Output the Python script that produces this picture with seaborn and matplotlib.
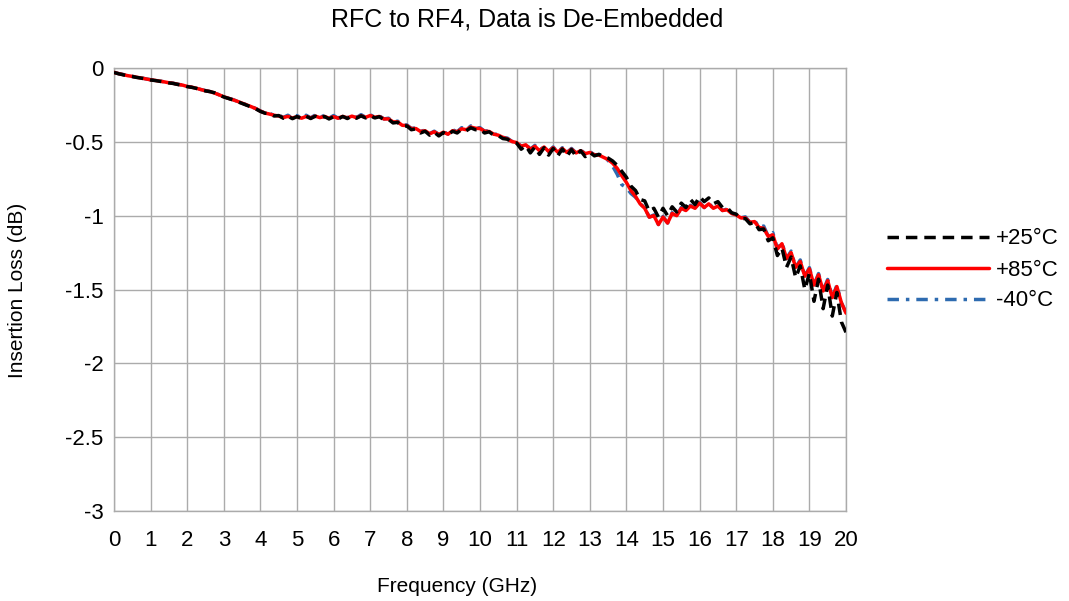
import numpy as np
import pandas as pd
import matplotlib
matplotlib.use("Agg")
import matplotlib.pyplot as plt
import seaborn as sns

# Frequency sweep, 0 to 20 GHz in 0.125 GHz steps (161 points)
freq_ghz = np.linspace(0, 20, 161)

# Insertion loss (dB)
loss_85c = [
    -0.030, -0.038, -0.045, -0.052, -0.057, -0.063, -0.068, -0.074, -0.080, -0.084,
    -0.089, -0.094, -0.100, -0.104, -0.111, -0.116, -0.125, -0.130, -0.137, -0.146,
    -0.154, -0.160, -0.170, -0.182, -0.195, -0.205, -0.215, -0.226, -0.238, -0.250,
    -0.262, -0.275, -0.292, -0.305, -0.312, -0.320, -0.325, -0.335, -0.328, -0.338,
    -0.330, -0.340, -0.328, -0.338, -0.326, -0.336, -0.328, -0.340, -0.330, -0.340,
    -0.328, -0.338, -0.326, -0.336, -0.324, -0.334, -0.322, -0.334, -0.328, -0.345,
    -0.345, -0.365, -0.365, -0.388, -0.390, -0.410, -0.410, -0.430, -0.425, -0.445,
    -0.432, -0.450, -0.435, -0.448, -0.425, -0.432, -0.412, -0.418, -0.400, -0.408,
    -0.410, -0.428, -0.430, -0.448, -0.455, -0.470, -0.480, -0.498, -0.505, -0.530,
    -0.520, -0.550, -0.530, -0.560, -0.535, -0.565, -0.540, -0.570, -0.545, -0.572,
    -0.550, -0.575, -0.560, -0.580, -0.572, -0.588, -0.590, -0.605, -0.620, -0.645,
    -0.680, -0.730, -0.775, -0.830, -0.870, -0.920, -0.950, -1.010, -1.000, -1.060,
    -1.010, -1.050, -0.985, -1.000, -0.950, -0.965, -0.935, -0.950, -0.915, -0.945,
    -0.920, -0.950, -0.935, -0.965, -0.960, -0.985, -0.995, -1.015, -1.015, -1.045,
    -1.040, -1.080, -1.085, -1.140, -1.130, -1.225, -1.190, -1.290, -1.250, -1.350,
    -1.310, -1.410, -1.360, -1.470, -1.400, -1.510, -1.440, -1.555, -1.480, -1.590,
    -1.660,
]

loss_25c = [
    -0.030, -0.039, -0.046, -0.053, -0.058, -0.064, -0.069, -0.075, -0.081, -0.085,
    -0.090, -0.095, -0.101, -0.105, -0.112, -0.117, -0.126, -0.131, -0.138, -0.147,
    -0.155, -0.160, -0.168, -0.183, -0.196, -0.206, -0.216, -0.228, -0.240, -0.252,
    -0.264, -0.277, -0.294, -0.306, -0.310, -0.325, -0.322, -0.340, -0.326, -0.343,
    -0.329, -0.344, -0.327, -0.342, -0.326, -0.341, -0.328, -0.345, -0.330, -0.345,
    -0.328, -0.342, -0.326, -0.340, -0.324, -0.338, -0.322, -0.338, -0.330, -0.350,
    -0.348, -0.372, -0.368, -0.395, -0.392, -0.418, -0.412, -0.440, -0.428, -0.455,
    -0.435, -0.460, -0.437, -0.455, -0.428, -0.440, -0.415, -0.425, -0.405, -0.418,
    -0.415, -0.440, -0.432, -0.455, -0.458, -0.478, -0.482, -0.505, -0.508, -0.550,
    -0.525, -0.575, -0.535, -0.585, -0.540, -0.590, -0.545, -0.595, -0.548, -0.598,
    -0.552, -0.598, -0.560, -0.600, -0.570, -0.595, -0.585, -0.600, -0.610, -0.630,
    -0.660, -0.700, -0.740, -0.800, -0.830, -0.890, -0.900, -0.970, -0.950, -1.010,
    -0.950, -1.000, -0.940, -0.975, -0.915, -0.945, -0.890, -0.925, -0.870, -0.905,
    -0.880, -0.920, -0.905, -0.945, -0.945, -0.980, -0.990, -1.020, -1.020, -1.055,
    -1.045, -1.095, -1.090, -1.170, -1.150, -1.270, -1.220, -1.350, -1.280, -1.420,
    -1.340, -1.500, -1.390, -1.580, -1.430, -1.630, -1.470, -1.680, -1.520, -1.720,
    -1.790,
]

loss_m40c = [
    -0.030, -0.038, -0.044, -0.052, -0.056, -0.063, -0.067, -0.074, -0.079, -0.084,
    -0.088, -0.094, -0.099, -0.104, -0.110, -0.116, -0.124, -0.130, -0.136, -0.146,
    -0.153, -0.160, -0.169, -0.182, -0.194, -0.205, -0.214, -0.226, -0.237, -0.250,
    -0.261, -0.275, -0.291, -0.305, -0.308, -0.320, -0.318, -0.335, -0.320, -0.338,
    -0.322, -0.340, -0.320, -0.338, -0.318, -0.336, -0.320, -0.340, -0.322, -0.340,
    -0.320, -0.338, -0.318, -0.336, -0.316, -0.334, -0.316, -0.334, -0.324, -0.345,
    -0.340, -0.365, -0.360, -0.388, -0.385, -0.410, -0.405, -0.430, -0.420, -0.445,
    -0.428, -0.450, -0.430, -0.448, -0.418, -0.432, -0.404, -0.418, -0.392, -0.408,
    -0.404, -0.428, -0.424, -0.448, -0.450, -0.470, -0.475, -0.498, -0.500, -0.530,
    -0.514, -0.550, -0.524, -0.560, -0.530, -0.565, -0.535, -0.570, -0.540, -0.572,
    -0.545, -0.575, -0.555, -0.580, -0.566, -0.588, -0.586, -0.605, -0.625, -0.665,
    -0.720, -0.790, -0.810, -0.850, -0.875, -0.920, -0.945, -1.010, -0.995, -1.060,
    -1.005, -1.050, -0.980, -1.000, -0.945, -0.965, -0.930, -0.950, -0.910, -0.945,
    -0.915, -0.950, -0.930, -0.965, -0.955, -0.985, -0.990, -1.015, -1.008, -1.045,
    -1.030, -1.080, -1.070, -1.140, -1.115, -1.225, -1.180, -1.290, -1.240, -1.350,
    -1.300, -1.410, -1.352, -1.470, -1.392, -1.510, -1.432, -1.555, -1.472, -1.590,
    -1.655,
]

series_labels = ["+25°C", "+85°C", "-40°C"]
series_colors = {"+25°C": "#000000", "+85°C": "#FF0000", "-40°C": "#2E6BB0"}
series_dashes = {"+25°C": (3.3, 2.0), "+85°C": "", "-40°C": (3.3, 2.0, 1.0, 2.0)}

x_ticks = list(range(0, 21))
y_ticks = [0, -0.5, -1, -1.5, -2, -2.5, -3]
y_tick_labels = ["0", "-0.5", "-1", "-1.5", "-2", "-2.5", "-3"]


def build_frame():
    frames = []
    for label, vals in zip(series_labels, [loss_25c, loss_85c, loss_m40c]):
        frames.append(pd.DataFrame({"freq": freq_ghz, "loss": vals, "temp": label}))
    return pd.concat(frames, ignore_index=True)


def main():
    sns.set_style("white")
    plt.rcParams["font.family"] = ["Liberation Sans", "DejaVu Sans"]
    plt.rcParams["text.color"] = "black"
    plt.rcParams["xtick.labelcolor"] = "black"
    plt.rcParams["ytick.labelcolor"] = "black"

    df = build_frame()

    fig = plt.figure(figsize=(10.69, 6.01), dpi=100)
    ax = fig.add_axes([114 / 1069, 1 - 511 / 601, (846 - 114) / 1069, (511 - 68) / 601])

    # draw blue first, red on it, black dashes on top
    handles = {}
    for label, z in [("-40°C", 2), ("+85°C", 3), ("+25°C", 4)]:
        sub = df[df["temp"] == label]
        sns.lineplot(data=sub, x="freq", y="loss", ax=ax, color=series_colors[label],
                     lw=2.5, label=label, zorder=z)
        line = ax.get_lines()[-1]
        if series_dashes[label]:
            line.set_dashes(series_dashes[label])
        handles[label] = line

    ax.set_xlim(0, 20)
    ax.set_ylim(-3, 0)
    ax.set_xticks(x_ticks)
    ax.set_yticks(y_ticks)
    ax.set_yticklabels(y_tick_labels)
    ax.grid(True, color="#ABABAB", lw=1.0)
    for s in ax.spines.values():
        s.set_color("#ABABAB")
        s.set_linewidth(1.0)
    ax.tick_params(axis="y", length=4.5, width=1.0, color="#ABABAB", labelcolor="black",
                   pad=3, labelsize=16)
    ax.tick_params(axis="x", length=3, width=1.0, color="#ABABAB", labelcolor="black",
                   pad=11, labelsize=16)
    ax.set_xlabel("")
    ax.set_ylabel("")

    leg = ax.legend([handles[l] for l in series_labels], series_labels,
                    loc="center left", bbox_to_anchor=(876 / 1069, 1 - 270 / 601),
                    bbox_transform=fig.transFigure, frameon=False, fontsize=16,
                    handlelength=4.6, handletextpad=0.3, labelspacing=0.45, borderpad=0)
    for t in leg.get_texts():
        t.set_color("black")

    fig.text(527 / 1069, 1 - 20 / 601, "RFC to RF4, Data is De-Embedded",
             ha="center", va="center", fontsize=18, color="black")
    fig.text(457 / 1069, 1 - 586 / 601, "Frequency (GHz)", ha="center", va="center",
             fontsize=15, color="black")
    fig.text(18 / 1069, 1 - 290 / 601, "Insertion Loss (dB)", ha="center", va="center",
             rotation=90, fontsize=15, color="black")

    fig.savefig("out.png", dpi=100)


if __name__ == "__main__":
    main()
